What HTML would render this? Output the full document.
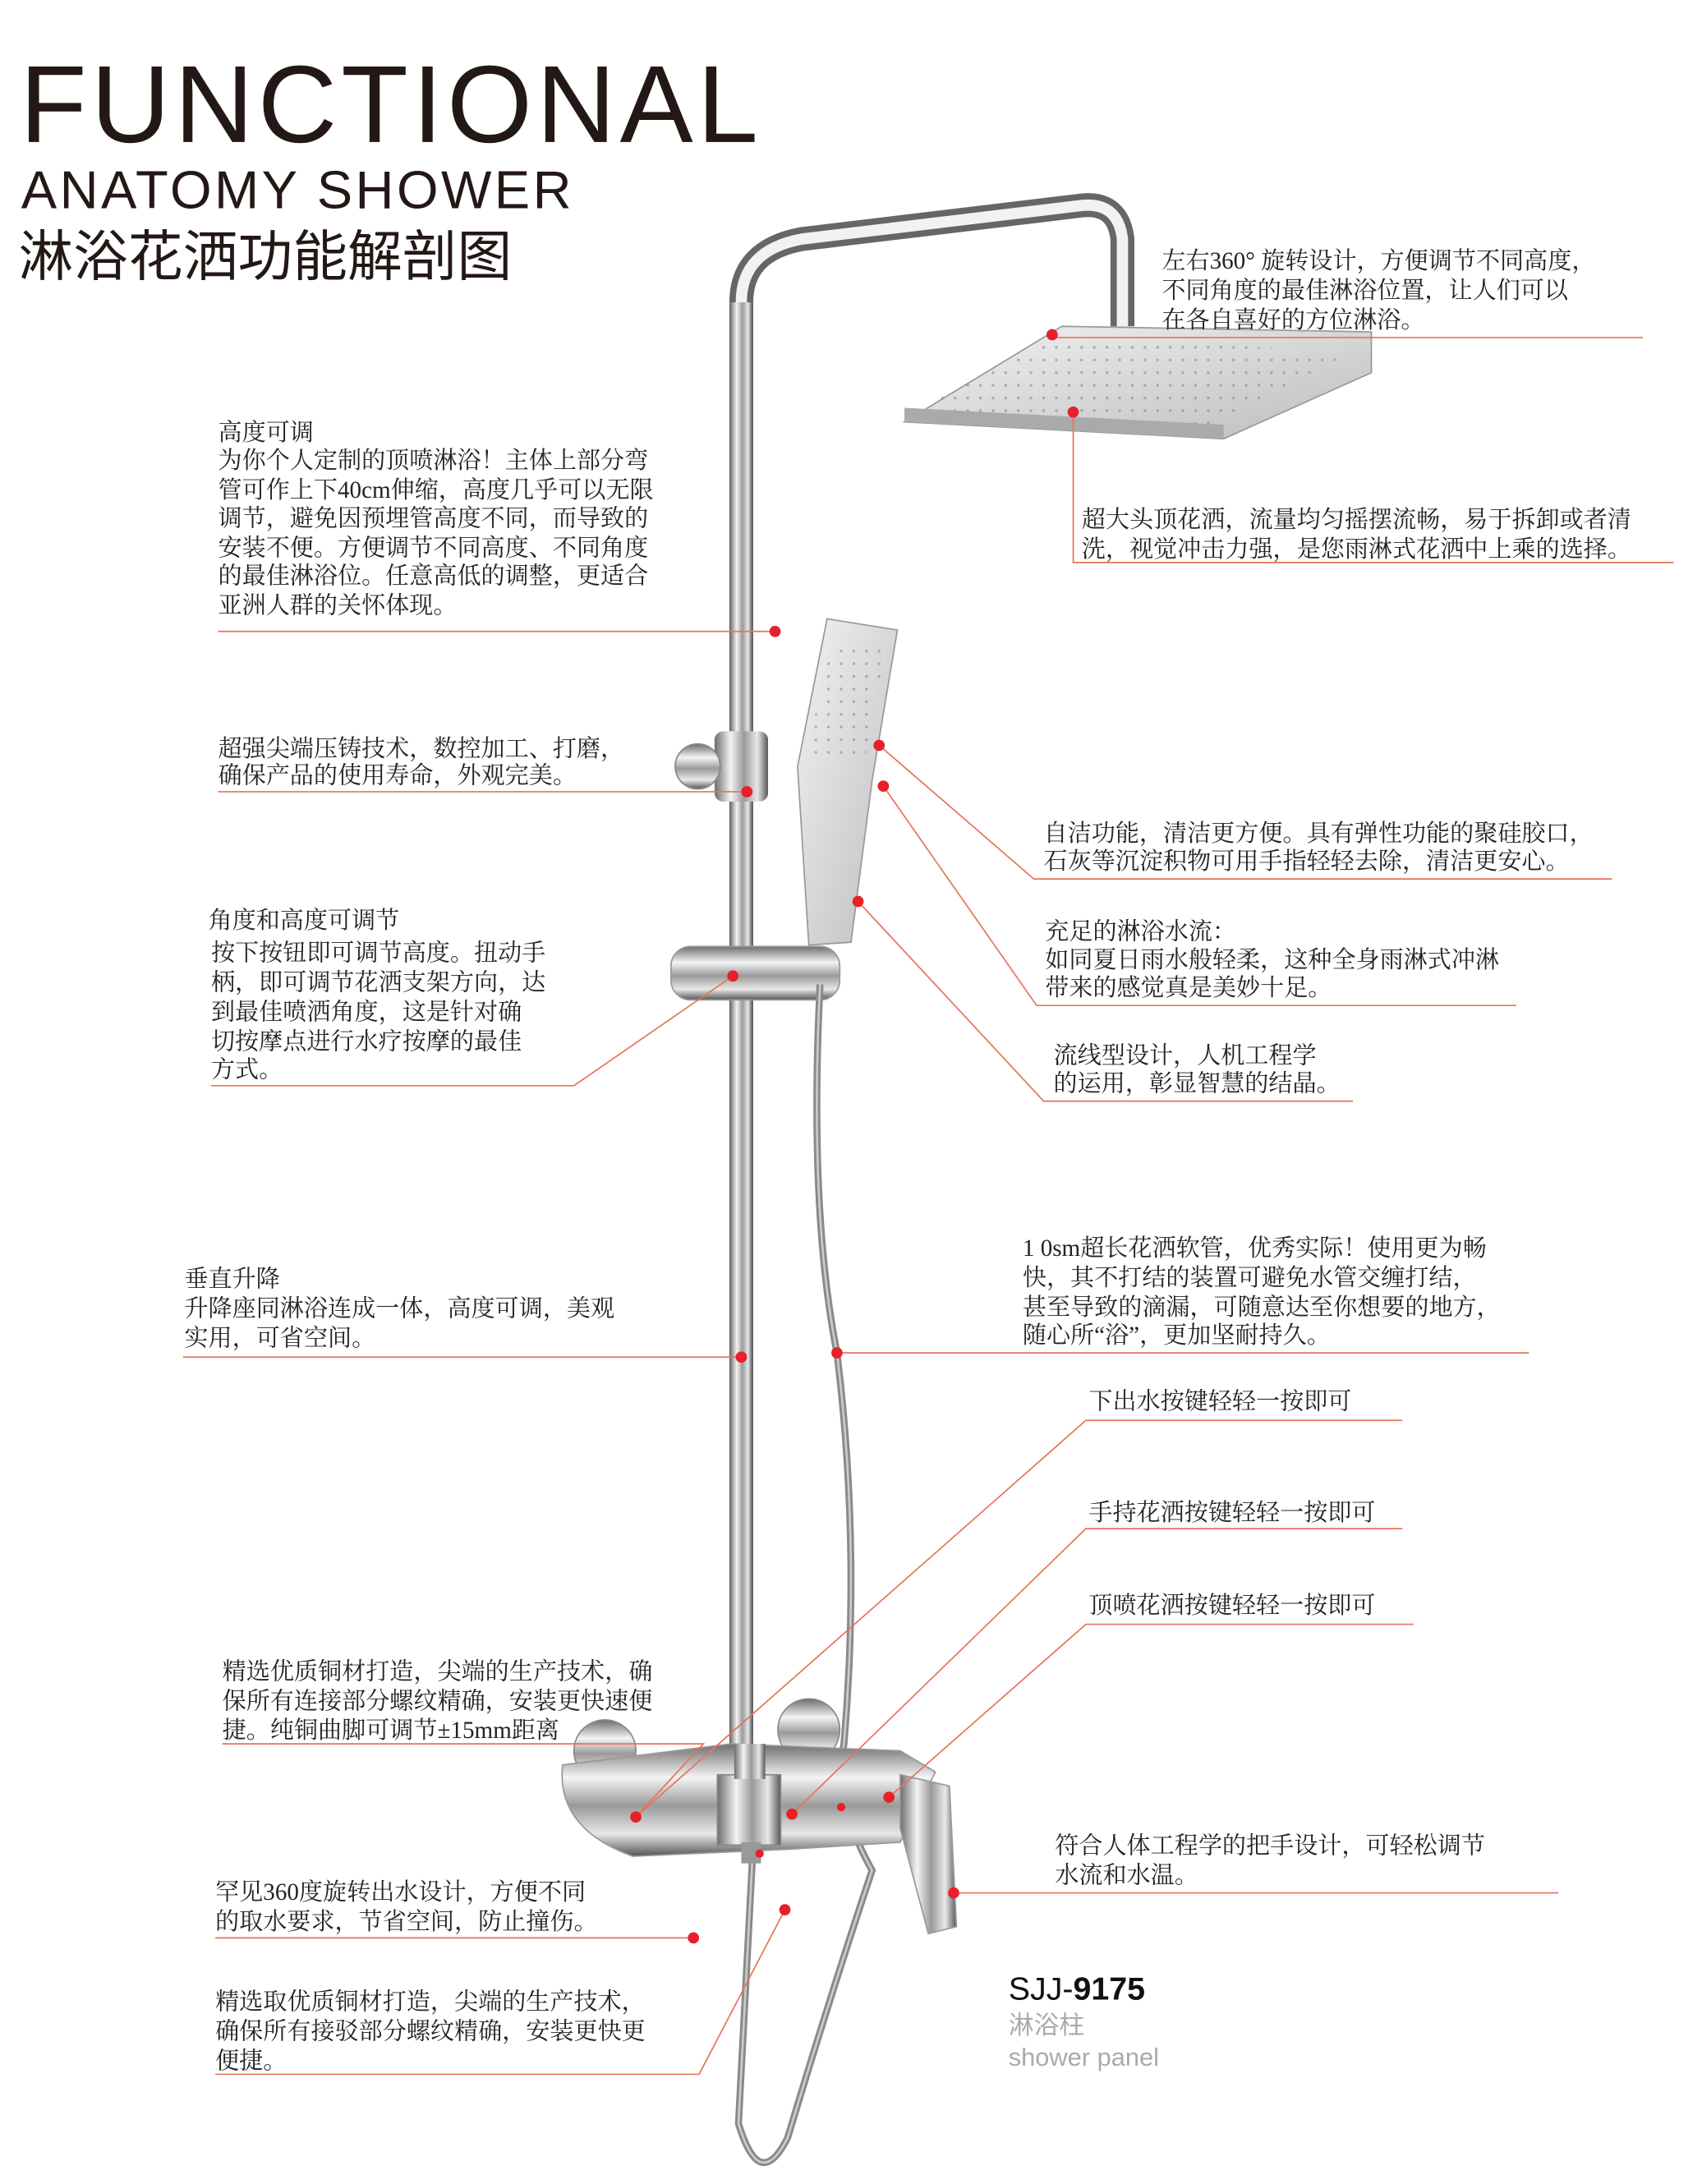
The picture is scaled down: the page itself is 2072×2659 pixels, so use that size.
<!DOCTYPE html>
<html><head><meta charset="utf-8"><style>
html,body{margin:0;padding:0;background:#fff;}
svg{display:block;}
.t{font-family:"Liberation Serif","Noto Serif CJK SC",serif;font-size:17px;fill:#222;}
.l{stroke:#e8735a;stroke-width:1;fill:none;}
.d{fill:#e8202a;}
</style></head><body>
<svg width="2072" height="2659" viewBox="0 0 1210 1553" xmlns="http://www.w3.org/2000/svg">
<defs>
<linearGradient id="pv" x1="0" x2="1" y1="0" y2="0">
<stop offset="0" stop-color="#6d6d6d"/><stop offset="0.3" stop-color="#f4f4f4"/><stop offset="0.55" stop-color="#9a9a9a"/><stop offset="0.8" stop-color="#e8e8e8"/><stop offset="1" stop-color="#555"/></linearGradient>
<linearGradient id="ph" x1="0" x2="0" y1="0" y2="1">
<stop offset="0" stop-color="#6d6d6d"/><stop offset="0.3" stop-color="#f4f4f4"/><stop offset="0.55" stop-color="#9a9a9a"/><stop offset="0.8" stop-color="#e8e8e8"/><stop offset="1" stop-color="#555"/></linearGradient>
<linearGradient id="hd" x1="0" x2="1" y1="0" y2="1">
<stop offset="0" stop-color="#f2f2f2"/><stop offset="1" stop-color="#bdbdbd"/></linearGradient>
<pattern id="dots" width="9" height="9" patternUnits="userSpaceOnUse"><circle cx="4" cy="4" r="1" fill="#888"/></pattern>
</defs>
<text x="14" y="101" font-family="Liberation Sans,sans-serif" font-size="78" fill="#231815" letter-spacing="3" font-weight="300" textLength="528">FUNCTIONAL</text>
<text x="15" y="148" font-family="Liberation Sans,sans-serif" font-size="38" fill="#231815" letter-spacing="2">ANATOMY SHOWER</text>
<text x="13" y="196" font-family="Liberation Sans,'Noto Sans CJK SC',sans-serif" font-size="39" fill="#231815">淋浴花洒功能解剖图</text>

<path d="M527 1245 V215 Q527 178 570 170 L770 146 Q795 144 798 170 V232" fill="none" stroke="#666" stroke-width="17"/>
<path d="M527 1245 V215 Q527 178 570 170 L770 146 Q795 144 798 170 V232" fill="none" stroke="#f2f2f2" stroke-width="8"/>
<rect x="519" y="215" width="16" height="1030" fill="url(#pv)"/>
<path d="M755 232 L975 236 L975 265 L870 312 L643 300 Z" fill="url(#hd)" stroke="#999"/>
<path d="M750 240 L962 250 L860 302 L650 292 Z" fill="url(#dots)" opacity="0.6"/>
<path d="M643 290 L870 302 L870 312 L643 300Z" fill="#aaa"/>
<path d="M588 440 L638 448 L620 555 L605 670 L575 672 L567 545 Z" fill="url(#hd)" stroke="#999"/>
<path d="M592 455 L630 460 L615 540 L572 540 Z" fill="url(#dots)" opacity="0.6"/>
<rect x="508" y="520" width="38" height="50" rx="6" fill="url(#pv)"/>
<circle cx="496" cy="545" r="16" fill="url(#ph)" stroke="#888"/>
<rect x="477" y="673" width="120" height="38" rx="14" fill="url(#ph)" stroke="#999"/>
<path d="M583 700 Q575 860 595 962 Q612 1100 600 1240 Q592 1280 620 1330 Q590 1420 560 1520 Q540 1560 525 1510 L535 1320" fill="none" stroke="#8a8a8a" stroke-width="5"/>
<path d="M583 700 Q575 860 595 962 Q612 1100 600 1240 Q592 1280 620 1330 Q590 1420 560 1520 Q540 1560 525 1510 L535 1320" fill="none" stroke="#ccc" stroke-width="1.5"/>
<circle cx="430" cy="1245" r="22" fill="url(#ph)" stroke="#888"/>
<circle cx="575" cy="1230" r="22" fill="url(#ph)" stroke="#888"/>
<path d="M400 1255 L520 1240 L640 1245 L665 1260 L640 1310 L560 1315 L450 1320 Q395 1300 400 1255Z" fill="url(#ph)" stroke="#999"/>
<rect x="510" y="1262" width="45" height="50" fill="url(#pv)" stroke="#888"/>
<rect x="522" y="1240" width="22" height="25" fill="url(#pv)"/>
<path d="M640 1262 L675 1270 L680 1370 L660 1375 L640 1300Z" fill="url(#pv)" stroke="#999"/>
<rect x="527" y="1310" width="14" height="15" fill="#999"/>

<g class="t">
<text x="826" y="191">左右360° 旋转设计，方便调节不同高度，</text>
<text x="826" y="212">不同角度的最佳淋浴位置，让人们可以</text>
<text x="826" y="233">在各自喜好的方位淋浴。</text>
<text x="769" y="375">超大头顶花洒，流量均匀摇摆流畅，易于拆卸或者清</text>
<text x="769" y="396">洗，视觉冲击力强，是您雨淋式花洒中上乘的选择。</text>
<text x="155" y="313">高度可调</text>
<text x="155" y="333">为你个人定制的顶喷淋浴！主体上部分弯</text>
<text x="155" y="354">管可作上下40cm伸缩，高度几乎可以无限</text>
<text x="155" y="374">调节，避免因预埋管高度不同，而导致的</text>
<text x="155" y="395">安装不便。方便调节不同高度、不同角度</text>
<text x="155" y="415">的最佳淋浴位。任意高低的调整，更适合</text>
<text x="155" y="436">亚洲人群的关怀体现。</text>
<text x="155" y="538">超强尖端压铸技术，数控加工、打磨，</text>
<text x="155" y="557">确保产品的使用寿命，外观完美。</text>
<text x="148" y="660">角度和高度可调节</text>
<text x="150" y="683">按下按钮即可调节高度。扭动手</text>
<text x="150" y="704">柄，即可调节花洒支架方向，达</text>
<text x="150" y="725">到最佳喷洒角度，这是针对确</text>
<text x="150" y="746">切按摩点进行水疗按摩的最佳</text>
<text x="150" y="766">方式。</text>
<text x="742" y="598">自洁功能，清洁更方便。具有弹性功能的聚硅胶口，</text>
<text x="742" y="618">石灰等沉淀积物可用手指轻轻去除，清洁更安心。</text>
<text x="743" y="668">充足的淋浴水流：</text>
<text x="743" y="688">如同夏日雨水般轻柔，这种全身雨淋式冲淋</text>
<text x="743" y="708">带来的感觉真是美妙十足。</text>
<text x="749" y="756">流线型设计，人机工程学</text>
<text x="749" y="776">的运用，彰显智慧的结晶。</text>
<text x="131" y="915">垂直升降</text>
<text x="131" y="936">升降座同淋浴连成一体，高度可调，美观</text>
<text x="131" y="957">实用，可省空间。</text>
<text x="727" y="893">1 0sm超长花洒软管，优秀实际！使用更为畅</text>
<text x="727" y="914">快，其不打结的装置可避免水管交缠打结，</text>
<text x="727" y="935">甚至导致的滴漏，可随意达至你想要的地方，</text>
<text x="727" y="955">随心所“浴”，更加坚耐持久。</text>
<text x="774" y="1002">下出水按键轻轻一按即可</text>
<text x="774" y="1081">手持花洒按键轻轻一按即可</text>
<text x="774" y="1147">顶喷花洒按键轻轻一按即可</text>
<text x="158" y="1194">精选优质铜材打造，尖端的生产技术，确</text>
<text x="158" y="1215">保所有连接部分螺纹精确，安装更快速便</text>
<text x="158" y="1236">捷。纯铜曲脚可调节±15mm距离</text>
<text x="750" y="1318">符合人体工程学的把手设计，可轻松调节</text>
<text x="750" y="1339">水流和水温。</text>
<text x="153" y="1351">罕见360度旋转出水设计，方便不同</text>
<text x="153" y="1372">的取水要求，节省空间，防止撞伤。</text>
<text x="153" y="1429">精选取优质铜材打造，尖端的生产技术，</text>
<text x="153" y="1450">确保所有接驳部分螺纹精确，安装更快更</text>
<text x="153" y="1471">便捷。</text>
</g>
<g class="l">
<path d="M748 240 H1168"/>
<path d="M763 293 V400 H1190"/>
<path d="M155 449 H551"/>
<path d="M155 563 H531"/>
<path d="M150 772 H408 L521 694"/>
<path d="M1146 625 H735 L625 530"/>
<path d="M1078 715 H737 L628 559"/>
<path d="M962 783 H742 L610 641"/>
<path d="M130 965 H527"/>
<path d="M595 962 H1087"/>
<path d="M997 1010 H772 L452 1292"/>
<path d="M997 1087 H772 L563 1290"/>
<path d="M1005 1155 H772 L632 1278"/>
<path d="M158 1240 H500 L452 1292"/>
<path d="M678 1346 H1108"/>
<path d="M153 1378 H493"/>
<path d="M153 1475 H497 L558 1358"/>
</g>
<g class="d">
<circle cx="748" cy="238" r="4"/><circle cx="763" cy="293" r="4"/>
<circle cx="551" cy="449" r="4"/><circle cx="531" cy="563" r="4"/>
<circle cx="521" cy="694" r="4"/><circle cx="625" cy="530" r="4"/>
<circle cx="628" cy="559" r="4"/><circle cx="610" cy="641" r="4"/>
<circle cx="527" cy="965" r="4"/><circle cx="595" cy="962" r="4"/>
<circle cx="452" cy="1292" r="4"/><circle cx="563" cy="1290" r="4"/>
<circle cx="632" cy="1278" r="4"/><circle cx="678" cy="1346" r="4"/>
<circle cx="493" cy="1378" r="4"/><circle cx="558" cy="1358" r="4"/>
<circle cx="540" cy="1318" r="3"/><circle cx="598" cy="1285" r="3"/>
</g>
<text x="717" y="1422" font-family="Liberation Sans,sans-serif" font-size="23" fill="#111">SJJ-<tspan font-weight="bold">9175</tspan></text>
<text x="717" y="1446" font-family="Liberation Sans,'Noto Sans CJK SC',sans-serif" font-size="18" fill="#aaa">淋浴柱</text>
<text x="717" y="1469" font-family="Liberation Sans,sans-serif" font-size="18" fill="#aaa">shower panel</text>
</svg>
</body></html>
